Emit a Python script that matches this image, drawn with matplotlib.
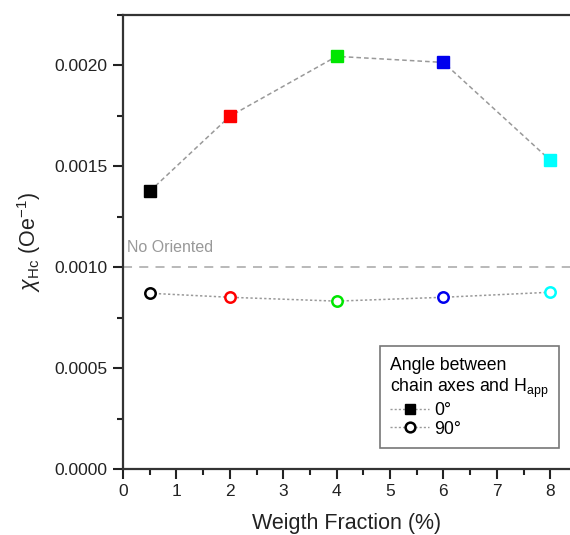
import matplotlib
matplotlib.use("Agg")
import matplotlib.pyplot as plt
from matplotlib.lines import Line2D
from matplotlib.ticker import MultipleLocator

plt.rcParams['font.family'] = ['Liberation Sans', 'DejaVu Sans']
plt.rcParams['mathtext.fontset'] = 'custom'
plt.rcParams['mathtext.rm'] = 'Liberation Sans'
plt.rcParams['mathtext.it'] = 'Liberation Sans:italic'
plt.rcParams['mathtext.bf'] = 'Liberation Sans:bold'

weight = [0.5, 2, 4, 6, 8]
chi_0deg = [0.001376, 0.001748, 0.002045, 0.002015, 0.00153]
chi_90deg = [0.000871, 0.000851, 0.000832, 0.000851, 0.000876]
point_colors = ['#000000', '#ff0000', '#00e600', '#0000ee', '#00ffff']
no_oriented = 0.0010
xticks = [0, 1, 2, 3, 4, 5, 6, 7, 8]
yticks = [0.0, 0.0005, 0.0010, 0.0015, 0.0020]
ytick_labels = ['0.0000', '0.0005', '0.0010', '0.0015', '0.0020']

fig = plt.figure(figsize=(5.7, 5.35), dpi=100)
ax = fig.add_axes([123/570, 66/535, 1 - 123/570, 454/535])

line_col = '#999999'
ax.plot(weight, chi_0deg, linestyle=(0, (3, 2)), color=line_col, lw=1.1, zorder=2)
ax.plot(weight, chi_90deg, linestyle=(0, (1.5, 1.5)), color=line_col, lw=1.1, zorder=2)
for x, y, c in zip(weight, chi_0deg, point_colors):
    ax.plot(x, y, marker='s', ms=8, color=c, mec=c, linestyle='none', zorder=3)
for x, y, c in zip(weight, chi_90deg, point_colors):
    ax.plot(x, y, marker='o', ms=7.5, mfc='white', mec=c, mew=1.8, linestyle='none', zorder=3)

ax.axhline(no_oriented, color='#b3b3b3', linestyle=(0, (5, 4)), lw=1.3, zorder=1)
ax.text(0.08, 0.00106, 'No Oriented', color='#999999', fontsize=11.5, va='bottom', ha='left')

ax.set_xlim(0, 8.37)
ax.set_ylim(0, 0.00225)
ax.set_xticks(xticks)
ax.set_xticklabels([str(t) for t in xticks])
ax.set_yticks(yticks)
ax.set_yticklabels(ytick_labels)
ax.xaxis.set_minor_locator(MultipleLocator(0.5))
ax.yaxis.set_minor_locator(MultipleLocator(0.00025))
ax.tick_params(which='major', direction='out', length=7, width=1.5, labelsize=12.5, colors='#222222', pad=4)
ax.tick_params(which='minor', direction='out', length=4, width=1.5, colors='#222222')
ax.tick_params(axis='x', which='both', top=False)
ax.tick_params(axis='y', which='both', right=False)
for s in ['left', 'bottom', 'top']:
    ax.spines[s].set_linewidth(1.6)
    ax.spines[s].set_color('#333333')
ax.spines['right'].set_visible(False)

ax.set_xlabel('Weigth Fraction (%)', fontsize=15.5, color='#222222', labelpad=10)
ax.set_ylabel(r'$\chi_{\mathrm{Hc}}$ (Oe$^{\mathrm{-1}}$)', fontsize=15.5, color='#222222', labelpad=8)

handles = [
    Line2D([], [], color=line_col, linestyle=(0, (1.5, 1.5)), lw=1.0, marker='s', ms=7, mfc='black', mec='black'),
    Line2D([], [], color=line_col, linestyle=(0, (1.5, 1.5)), lw=1.0, marker='o', ms=7, mfc='white', mec='black', mew=1.8),
]
leg = ax.legend(handles, ['0°', '90°'], title='Angle between\nchain axes and H$_{\\mathrm{app}}$',
                loc='lower right', bbox_to_anchor=(0.976, 0.046), borderaxespad=0,
                fontsize=12.7, title_fontsize=12.7,
                frameon=True, fancybox=False, edgecolor='#555555', handlelength=2.2, handletextpad=0.3,
                labelspacing=0.1, borderpad=0.6)
leg.get_frame().set_linewidth(1.2)
leg._legend_box.align = 'left'

fig.savefig('out.png', dpi=100)
